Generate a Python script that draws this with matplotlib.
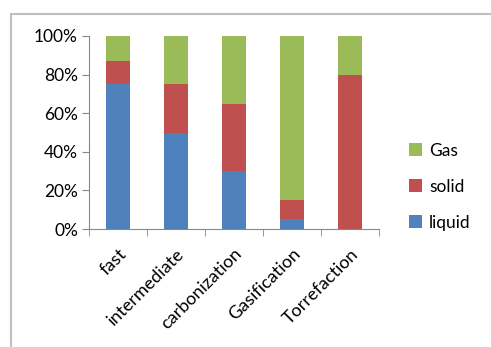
import numpy as np
import matplotlib.pyplot as plt
from matplotlib.patches import Rectangle
from matplotlib.ticker import PercentFormatter

categories = ['fast', 'intermediate', 'carbonization', 'Gasification', 'Torrefaction']
liquid = [75, 50, 30, 5, 0]
solid  = [12, 25, 35, 10, 80]
gas    = [13, 25, 35, 85, 20]

colors = {'liquid': '#4F81BD', 'solid': '#C0504D', 'Gas': '#9BBB59'}

plt.rcParams['font.family'] = ['Lato', 'DejaVu Sans']

fig = plt.figure(figsize=(4.91, 3.47), dpi=100)
# outer chart border
fig.patches.append(Rectangle((11/491, -0.1), 1.2, 0.96 + 0.1, transform=fig.transFigure,
                             fill=False, edgecolor='#BFBFBF', linewidth=1.5))

ax = fig.add_axes([89/491, 1 - 229/347, 290/491, 193/347])
x = np.arange(len(categories))
w = 0.4
b_liq = ax.bar(x, liquid, w, color=colors['liquid'], label='liquid')
b_sol = ax.bar(x, solid, w, bottom=liquid, color=colors['solid'], label='solid')
bot = np.array(liquid) + np.array(solid)
b_gas = ax.bar(x, gas, w, bottom=bot, color=colors['Gas'], label='Gas')

ax.set_xlim(-0.5, len(categories) - 0.5)
ax.set_ylim(0, 100)
ax.set_yticks(np.arange(0, 101, 20))
ax.yaxis.set_major_formatter(PercentFormatter(decimals=0))
ax.set_xticks(x)
ax.set_xticklabels(categories, rotation=45, ha='right', rotation_mode='anchor')
ax.set_xticks(np.arange(-0.5, len(categories)), minor=True)
ax.tick_params(axis='x', which='major', length=0, pad=12, labelsize=13)
ax.tick_params(axis='x', which='minor', length=5, color='#888888', direction='out')
ax.tick_params(axis='y', length=5, color='#888888', labelsize=12.5, pad=3)

for s in ['top', 'right']:
    ax.spines[s].set_visible(False)
for s in ['left', 'bottom']:
    ax.spines[s].set_color('#888888')

ax.legend(handles=[b_gas, b_sol, b_liq], loc='center left', bbox_to_anchor=(1.05, 0.22),
          frameon=False, fontsize=12.5, handlelength=0.75, handleheight=0.75,
          labelspacing=1.15, handletextpad=0.4)

fig.savefig('out.png', dpi=100)
